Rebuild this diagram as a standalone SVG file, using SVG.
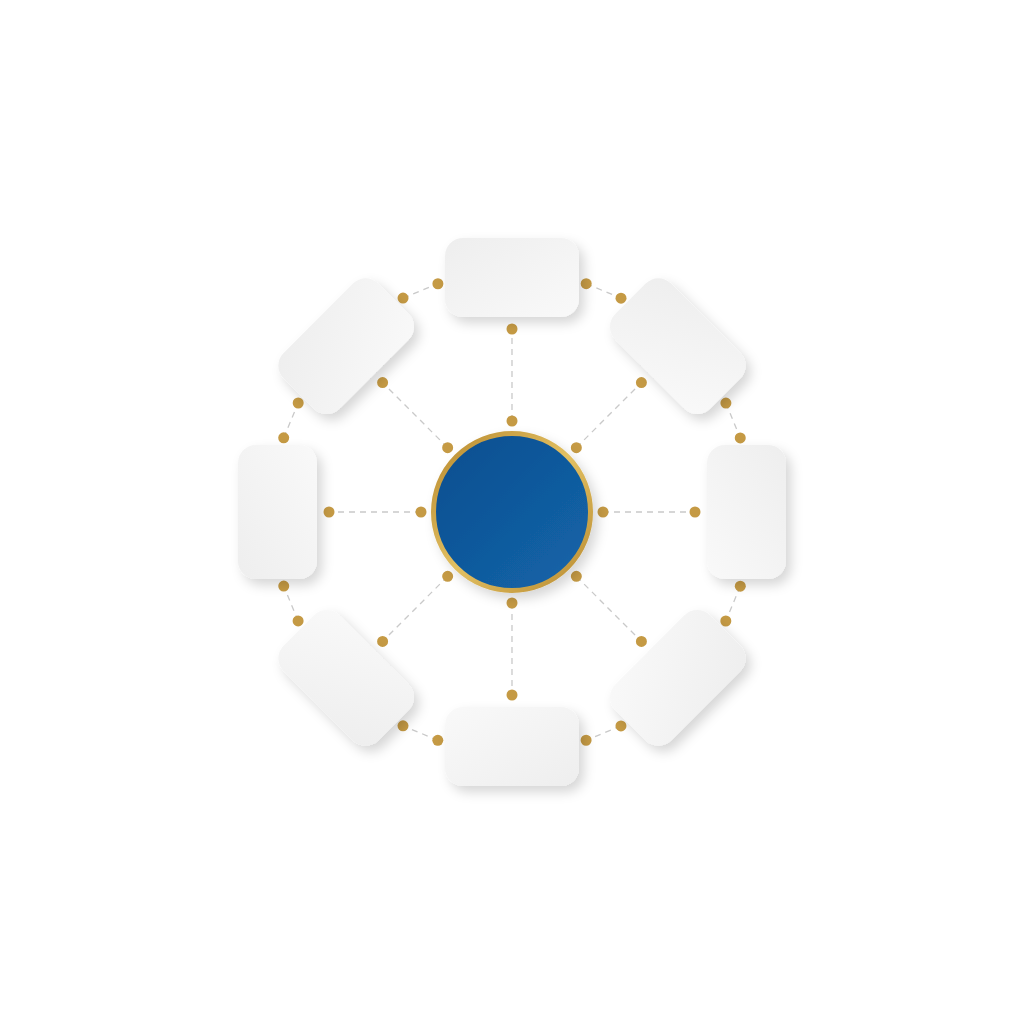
<svg xmlns="http://www.w3.org/2000/svg" width="1024" height="1024" viewBox="0 0 1024 1024">
<defs>
<style>
.dash{stroke:#c9c9c9;stroke-width:1.3;stroke-dasharray:6 5;fill:none}
.dot{fill:#c59a44}
.card{fill:url(#cardg)}
</style>
<linearGradient id="cardg" x1="0" y1="0" x2="1" y2="1">
<stop offset="0" stop-color="#eeeeee"/>
<stop offset="1" stop-color="#f9f9f9"/>
</linearGradient>
<linearGradient id="blue" x1="0" y1="0" x2="1" y2="1">
<stop offset="0" stop-color="#0c4d8f"/>
<stop offset="1" stop-color="#1466aa"/>
</linearGradient>
<linearGradient id="gold" x1="0" y1="0" x2="1" y2="1">
<stop offset="0" stop-color="#b8892e"/>
<stop offset="0.5" stop-color="#e2c062"/>
<stop offset="1" stop-color="#b88a30"/>
</linearGradient>
<filter id="sh" x="-30%" y="-30%" width="170%" height="170%">
<feDropShadow dx="5" dy="6" stdDeviation="6" flood-color="#000" flood-opacity="0.16"/>
</filter>
<g id="spokeConn">
<line class="dash" x1="512" y1="421" x2="512" y2="329"/>
<line class="dash" x1="586.2" y1="283.7" x2="621" y2="298.2"/>
<circle class="dot" cx="512" cy="421" r="5.5"/>
<circle class="dot" cx="512" cy="329" r="5.5"/>
<circle class="dot" cx="586.2" cy="283.7" r="5.5"/>
<circle class="dot" cx="621" cy="298.2" r="5.5"/>
</g>
</defs>
<rect width="1024" height="1024" fill="#ffffff"/>
<g id="connectors">
<use href="#spokeConn"/>
<use href="#spokeConn" transform="rotate(45 512 512)"/>
<use href="#spokeConn" transform="rotate(90 512 512)"/>
<use href="#spokeConn" transform="rotate(135 512 512)"/>
<use href="#spokeConn" transform="rotate(180 512 512)"/>
<use href="#spokeConn" transform="rotate(225 512 512)"/>
<use href="#spokeConn" transform="rotate(270 512 512)"/>
<use href="#spokeConn" transform="rotate(315 512 512)"/>
</g>
<g id="node-top" filter="url(#sh)"><rect class="card" x="445" y="238" width="134" height="79" rx="18"/></g>
<g id="node-top-right" filter="url(#sh)"><rect class="card" x="445" y="238" width="134" height="79" rx="18" transform="rotate(45 512 512)"/></g>
<g id="node-right" filter="url(#sh)"><rect class="card" x="445" y="238" width="134" height="79" rx="18" transform="rotate(90 512 512)"/></g>
<g id="node-bottom-right" filter="url(#sh)"><rect class="card" x="445" y="238" width="134" height="79" rx="18" transform="rotate(135 512 512)"/></g>
<g id="node-bottom" filter="url(#sh)"><rect class="card" x="445" y="238" width="134" height="79" rx="18" transform="rotate(180 512 512)"/></g>
<g id="node-bottom-left" filter="url(#sh)"><rect class="card" x="445" y="238" width="134" height="79" rx="18" transform="rotate(225 512 512)"/></g>
<g id="node-left" filter="url(#sh)"><rect class="card" x="445" y="238" width="134" height="79" rx="18" transform="rotate(270 512 512)"/></g>
<g id="node-top-left" filter="url(#sh)"><rect class="card" x="445" y="238" width="134" height="79" rx="18" transform="rotate(315 512 512)"/></g>
<g id="center" filter="url(#sh)">
<circle cx="512" cy="512" r="78.5" fill="url(#blue)" stroke="url(#gold)" stroke-width="5"/>
</g>
</svg>
